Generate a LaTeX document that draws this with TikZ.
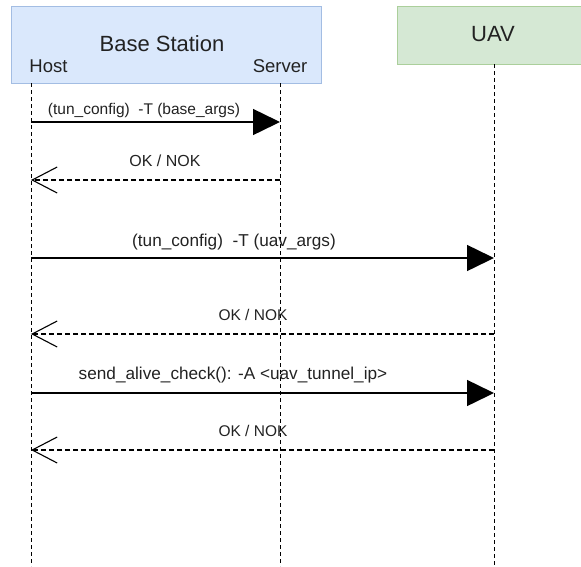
\documentclass[tikz,border=0pt]{standalone}
\usepackage{fontspec}
\setmainfont{Liberation Sans}
\usetikzlibrary{arrows.meta}
\definecolor{bsfill}{HTML}{DAE8FC}
\definecolor{bsline}{HTML}{A3BDE3}
\definecolor{uavfill}{HTML}{D5E8D4}
\definecolor{uavline}{HTML}{ABCF9B}
\definecolor{ink}{HTML}{222222}
\tikzset{
  lifeline/.style={draw=black, line width=0.9pt, dash pattern=on 4pt off 3pt},
  call/.style={draw=black, line width=1.5pt, -{Triangle[length=27pt,width=26pt]}},
  reply/.style={draw=black, line width=1.1pt, dash pattern=on 5pt off 3pt,
    -{Straight Barb[length=25pt,width=26pt,line width=1.1pt]}},
  msg/.style={text=ink, inner sep=0pt, anchor=center},
  title/.style={text=ink, inner sep=0pt, font=\fontsize{22}{24}\selectfont},
  role/.style={text=ink, inner sep=0pt, font=\fontsize{18.5}{20}\selectfont},
}
\begin{document}
\begin{tikzpicture}[x=1pt,y=-1pt]
\useasboundingbox (0,0) rectangle (581,566);
\clip (0,0) rectangle (581,566);

% participant boxes
\node[draw=bsline, fill=bsfill, line width=1pt, minimum width=310pt, minimum height=77pt,
      inner sep=0pt] (bs) at (166,44.5) {};
\node[draw=uavline, fill=uavfill, line width=1pt, minimum width=190pt, minimum height=58pt,
      inner sep=0pt] (uav) at (492,35) {};
\node[title] (bstitle) at (162,44) {Base Station};
\node[role] (host) at (48.5,66) {Host};
\node[role] (server) at (280,66) {Server};
\node[title] (uavtitle) at (493,34) {UAV};

% lifelines
\coordinate (hostTop) at (31,83);
\coordinate (hostBot) at (31,566);
\coordinate (srvTop) at (280,83);
\coordinate (srvBot) at (280,566);
\coordinate (uavTop) at (494,64);
\coordinate (uavBot) at (494,566);
\draw[lifeline] (hostTop) -- (hostBot);
\draw[lifeline] (srvTop) -- (srvBot);
\draw[lifeline] (uavTop) -- (uavBot);

% message end points on the lifelines
\coordinate (h1) at (31,122);  \coordinate (s1) at (280,122);
\coordinate (h2) at (31,180);  \coordinate (s2) at (280,180);
\coordinate (h3) at (31,258);  \coordinate (u3) at (494,258);
\coordinate (h4) at (31,334);  \coordinate (u4) at (494,334);
\coordinate (h5) at (31,393);  \coordinate (u5) at (494,393);
\coordinate (h6) at (31,450);  \coordinate (u6) at (494,450);

% messages
\draw[call] (h1) -- (s1);
\draw[reply] (s2) -- (h2);
\draw[call] (h3) -- (u3);
\draw[reply] (u4) -- (h4);
\draw[call] (h5) -- (u5);
\draw[reply] (u6) -- (h6);

% message labels
\node[msg, font=\fontsize{15.5}{17}\selectfont] (m1) at (144,110) {(tun\_config)\ \ -T (base\_args)};
\node[msg, font=\fontsize{16}{18}\selectfont] (m2) at (165,161) {OK / NOK};
\node[msg, font=\fontsize{17.2}{19}\selectfont] (m3) at (234,242) {(tun\_config)\ \ -T (uav\_args)};
\node[msg, font=\fontsize{15.5}{17}\selectfont] (m4) at (253,315) {OK / NOK};
\node[msg, font=\fontsize{17.2}{19}\selectfont] (m5) at (233,375) {send\_alive\_check(): -A <uav\_tunnel\_ip>};
\node[msg, font=\fontsize{15.5}{17}\selectfont] (m6) at (253,431) {OK / NOK};
\end{tikzpicture}
\end{document}
